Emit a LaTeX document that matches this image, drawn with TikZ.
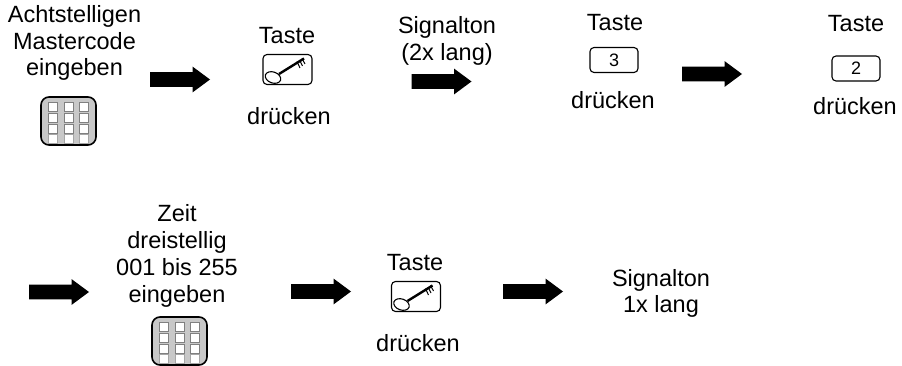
\documentclass[tikz,border=0pt]{standalone}
\usepackage{fontspec}
\setmainfont{Liberation Sans}
\usetikzlibrary{shapes.arrows}
\definecolor{padgray}{HTML}{C8C8C8}
\tikzset{
  x=1pt,y=-1pt,
  lbl/.style={font=\fontsize{23.5}{26.8}\selectfont,align=center,inner sep=0pt,text=black},
  blockarrow/.style={single arrow,fill=black,inner sep=7.2pt,minimum height=60pt,minimum width=25.5pt,single arrow head extend=5.5pt,single arrow tip angle=73,shape border rotate=0},
  digitbox/.style={draw=black,line width=1.1pt,rounded corners=4pt,minimum width=48pt,minimum height=25pt,inner sep=0pt,font=\fontsize{18}{20}\selectfont},
}
\newcommand{\keypad}[2]{%
  \begin{scope}[shift={(#1,#2)}]
    \draw[line width=1.6pt,fill=padgray,rounded corners=8pt] (0,0) rectangle (55,48);
    \foreach \cx in {12,27.5,42.5}{
      \foreach \cy/\gr in {10/50,20.5/50,32/50,42/35}{
        \draw[draw=black!\gr,fill=white,line width=0.8pt] (\cx-4.5,\cy-4.5) rectangle (\cx+4.5,\cy+4.5);
      }
    }
  \end{scope}}
\newcommand{\keybox}[2]{%
  \begin{scope}[shift={(#1,#2)}]
    \draw[line width=1.1pt,rounded corners=4pt] (0,0) rectangle (49,30);
    \draw[line width=1.1pt,rotate around={-20:(10,23)}] (10,23) ellipse (8 and 5.5);
    \draw[line width=2.4pt] (16,19.5) -- (41,4);
    \draw[line width=1pt] (34,7) -- (37,13.5) (36.5,5.5) -- (39.5,11.5) (39,4) -- (42,9.5);
  \end{scope}}
\begin{document}
\begin{tikzpicture}
\useasboundingbox (0,0) rectangle (902,366);
\node[lbl] (t1) at (74.5,43) {Achtstelligen\\Mastercode\\eingeben};
\node[lbl] (t2) at (287,36) {Taste};
\node[lbl] (t3) at (289,116) {drücken};
\node[lbl] (t4) at (447,41) {Signalton\\(2x lang)};
\node[lbl] (t5) at (615,22.5) {Taste};
\node[lbl] (t6) at (613,100) {drücken};
\node[lbl] (t7) at (856,24) {Taste};
\node[lbl] (t8) at (855,106) {drücken};
\node[lbl] (t9) at (177,256) {Zeit\\dreistellig\\001 bis 255\\eingeben};
\node[lbl] (t10) at (415,263) {Taste};
\node[lbl] (t11) at (418,343) {drücken};
\node[lbl] (t12) at (661,293.5) {Signalton\\1x lang};
\node[blockarrow] (a1) at (175,79.5) {};
\node[blockarrow] (a2) at (436.5,81.5) {};
\node[blockarrow] (a3) at (707,74) {};
\node[blockarrow] (a4) at (54,292) {};
\node[blockarrow] (a5) at (316,291.5) {};
\node[blockarrow] (a6) at (528,291.5) {};
\node[digitbox] (d3) at (614,60) {3};
\node[digitbox] (d2) at (856,68.5) {2};
\keypad{41}{97}
\keypad{152}{317}
\keybox{263}{54.5}
\keybox{391.5}{281.5}
\end{tikzpicture}
\end{document}
